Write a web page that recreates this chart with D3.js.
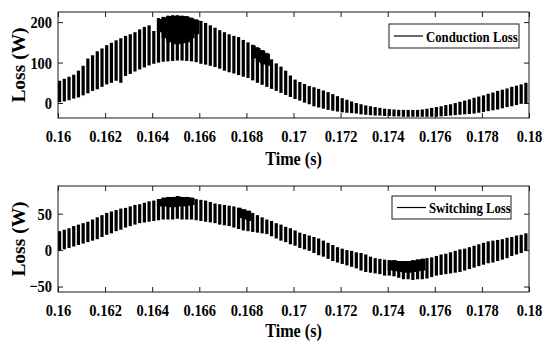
<!DOCTYPE html>
<html>
<head>
<meta charset="utf-8">
<script src="https://cdn.jsdelivr.net/npm/d3@7"></script>
<style>
  html, body { margin: 0; padding: 0; background: #fff; }
  svg { display: block; }
  text { font-family: "Liberation Serif", "Times New Roman", serif; font-weight: bold; fill: #000; }
</style>
</head>
<body>
<svg id="chart" width="550" height="351"></svg>
<script>
// time grid of the switching pulses (one entry per PWM period)
const T_START = 0.16, T_STEP = 0.0002;
const xDomain = [0.16, 0.18];
const xTicks = [0.16, 0.162, 0.164, 0.166, 0.168, 0.17, 0.172, 0.174, 0.176, 0.178, 0.18];
const xTickLabels = ["0.16", "0.162", "0.164", "0.166", "0.168", "0.17", "0.172", "0.174", "0.176", "0.178", "0.18"];

// conduction loss: peak / valley of each pulse (W)
const condHi = [55, 60, 65, 70, 80, 92, 110, 118, 128, 135,
  143, 149, 155, 160, 166, 170, 175, 182, 188, 192,
  178, 210, 213, 216, 217, 217, 216, 215, 211, 207,
  203, 198, 192, 186, 180, 175, 170, 166, 163, 156,
  150, 144, 138, 131, 124, 108, 98, 90, 80, 68,
  58, 52, 47, 42, 39, 35, 31, 27, 22, 17,
  12, 8, 4, 0, -3, -6, -8, -10, -12, -14,
  -15, -16, -17, -17, -17, -17, -17, -16, -14, -12,
  -10, -8, -5, -3, 0, 3, 6, 9, 13, 16,
  19, 23, 26, 30, 33, 36, 40, 43, 46, 50, 53];
const condLo = [2, 4, 7, 11, 14, 19, 24, 30, 34, 40,
  46, 50, 55, 50, 67, 72, 78, 83, 88, 93,
  97, 100, 102, 103, 104, 105, 105, 104, 103, 101,
  97, 95, 92, 89, 85, 80, 76, 73, 69, 65,
  62, 56, 50, 45, 40, 35, 30, 25, 20, 15,
  10, 6, 1, -3, -8, -11, -14, -17, -19, -21,
  -23, -24, -25, -26, -28, -29, -30, -31, -31, -32,
  -32, -33, -33, -34, -34, -34, -34, -34, -34, -34,
  -34, -33, -32, -31, -30, -29, -28, -27, -26, -24,
  -22, -20, -18, -16, -13, -10, -8, -5, -2, 0, 3];
const condTicks = [0, 100, 200];
// solid black cores where pulses overlap
const condCoreT  = [0.1642, 0.1644, 0.1646, 0.1648, 0.1650, 0.1652, 0.1654, 0.1656, 0.1658, 0.1660,
  0.1682, 0.1684, 0.1686, 0.1688, 0.1690];
const condCoreHi = [208, 212, 215, 216, 216, 215, 213, 209, 205, null, 142, 136, 130, 122, null];
const condCoreLo = [175, 160, 150, 145, 145, 148, 150, 160, 170, null, 110, 100, 95, 92, null];

// switching loss: peak / valley of each pulse (W)
const swHi = [26, 28, 30, 33, 35, 37, 39, 42, 45, 48,
  51, 53, 55, 57, 58, 60, 62, 63, 65, 67,
  68, 70, 72, 73, 73, 74, 73, 73, 72, 70,
  69, 68, 66, 64, 63, 62, 61, 60, 58, 56,
  54, 51, 48, 45, 42, 40, 37, 35, 32, 30,
  27, 24, 22, 20, 18, 16, 13, 10, 7, 4,
  2, 0, -1, -3, -4, -6, -9, -11, -12, -13,
  -14, -14, -15, -15, -15, -14, -13, -12, -11, -10,
  -8, -6, -5, -3, -1, 1, 2, 4, 6, 8,
  10, 12, 13, 14, 15, 17, 18, 20, 21, 23, 25];
const swLo = [-1, 1, 3, 5, 7, 9, 11, 13, 15, 18,
  21, 23, 26, 28, 31, 33, 35, 37, 38, 39,
  40, 41, 42, 42, 42, 43, 42, 42, 42, 41,
  40, 39, 38, 37, 35, 34, 33, 31, 29, 27,
  26, 25, 24, 23, 22, 19, 16, 13, 11, 8,
  6, 3, 1, -1, -4, -7, -9, -12, -15, -17,
  -19, -21, -23, -25, -28, -30, -31, -32, -33, -35,
  -35, -36, -38, -40, -40, -41, -40, -40, -39, -37,
  -35, -34, -33, -32, -31, -30, -28, -26, -24, -22,
  -20, -18, -17, -15, -13, -11, -8, -6, -4, -1, 1];
const swTicks = [-50, 0, 50];
const swCoreT  = [0.1642, 0.1644, 0.1646, 0.1648, 0.1650, 0.1652, 0.1654, 0.1656, 0.1658,
  0.1676, 0.1678, 0.1680, 0.1682,
  0.1740, 0.1742, 0.1744, 0.1746, 0.1748, 0.1750, 0.1752, 0.1754, 0.1756];
const swCoreHi = [70, 72, 73, 73, 74, 73, 73, 72, null, 58, 56, 54, null,
  -14, -14, -15, -15, -15, -14, -13, -12, null];
const swCoreLo = [60, 60, 59, 59, 60, 60, 61, 62, null, 44, 42, 40, null,
  -28, -29, -30, -31, -31, -30, -29, -28, null];

const DUTY = 0.68;
const AX = "#1a1a1a";
const SX = 0.85; // the original figure is squeezed horizontally

const svg = d3.select("#chart");
const left = 58, right = 529;
const x = d3.scaleLinear().domain(xDomain).range([left, right]);

function drawPanel(p) {
    const g = svg.append("g");
    const y = d3.scaleLinear().domain(p.yDomain).range([p.bottom, p.top]);

    g.append("clipPath").attr("id", p.id + "-clip")
        .append("rect").attr("x", left).attr("y", p.top)
        .attr("width", right - left).attr("height", p.bottom - p.top);

    const plot = g.append("g").attr("clip-path", `url(#${p.id}-clip)`);
    const pulses = p.hi.map((h, i) => ({ t: T_START + i * T_STEP, hi: h, lo: p.lo[i] }));
    plot.selectAll("rect").data(pulses).join("rect")
        .attr("x", d => x(d.t))
        .attr("width", d => x(d.t + DUTY * T_STEP) - x(d.t))
        .attr("y", d => y(d.hi))
        .attr("height", d => Math.max(1, y(d.lo) - y(d.hi)))
        .attr("fill", "#000");

    const core = p.coreT.map((t, i) => ({ t, hi: p.coreHi[i], lo: p.coreLo[i] }));
    const area = d3.area()
        .defined(d => d.hi != null)
        .x(d => x(d.t)).y0(d => y(d.lo)).y1(d => y(d.hi))
        .curve(d3.curveStepAfter);
    // step area needs the closing point of each run, so extend every run by one step
    const runs = [];
    let cur = [];
    core.forEach(d => {
        if (d.hi == null) { if (cur.length) { cur.push({ t: d.t, hi: cur[cur.length - 1].hi, lo: cur[cur.length - 1].lo }); runs.push(cur); } cur = []; }
        else cur.push(d);
    });
    plot.selectAll("path.core").data(runs).join("path").attr("class", "core")
        .attr("d", area).attr("fill", "#000");

    // axes, ticks pointing inward like matlab
    const xa = g.append("g").attr("transform", `translate(0,${p.bottom})`)
        .call(d3.axisBottom(x).tickValues(xTicks).tickFormat((d, i) => xTickLabels[i])
            .tickSizeInner(-5).tickSizeOuter(0).tickPadding(12));
    const xt = g.append("g").attr("transform", `translate(0,${p.top})`)
        .call(d3.axisTop(x).tickValues(xTicks).tickFormat("").tickSizeInner(-5).tickSizeOuter(0));
    const ya = g.append("g").attr("transform", `translate(${left},0)`)
        .call(d3.axisLeft(y).tickValues(p.yTicks).tickSizeInner(-5).tickSizeOuter(0).tickPadding(7));
    const yr = g.append("g").attr("transform", `translate(${right},0)`)
        .call(d3.axisRight(y).tickValues(p.yTicks).tickFormat("").tickSizeInner(-5).tickSizeOuter(0));

    [xa, xt, ya, yr].forEach(a => {
        a.select(".domain").remove();
        a.selectAll("line").attr("stroke", AX);
        a.attr("font-family", null).attr("font-size", null);
    });
    xa.selectAll("text").style("font-size", "17px").attr("transform", `scale(${SX},1)`);
    ya.selectAll("text").style("font-size", "17px").attr("transform", `scale(${SX},1)`);

    g.append("rect").attr("x", left).attr("y", p.top)
        .attr("width", right - left).attr("height", p.bottom - p.top)
        .attr("fill", "none").attr("stroke", AX).attr("stroke-width", 1);

    g.append("text")
        .attr("transform", `translate(${(left + right) / 2},${p.xLabelY}) scale(${SX},1)`)
        .attr("text-anchor", "middle").style("font-size", "19px")
        .text("Time (s)");
    g.append("text")
        .attr("transform", `translate(25,${(p.top + p.bottom) / 2}) rotate(-90) scale(1,0.93)`)
        .attr("text-anchor", "middle").style("font-size", "19.5px")
        .text("Loss (W)");

    // legend
    const lg = p.legend;
    g.append("rect").attr("x", lg.x).attr("y", lg.y).attr("width", lg.w).attr("height", lg.h)
        .attr("fill", "#fff").attr("stroke", AX).attr("stroke-width", 1);
    g.append("line").attr("x1", lg.x + 5).attr("x2", lg.x + 34)
        .attr("y1", lg.y + lg.h / 2).attr("y2", lg.y + lg.h / 2)
        .attr("stroke", "#000").attr("stroke-width", 1.2);
    g.append("text")
        .attr("transform", `translate(${lg.x + 37},${lg.y + lg.h / 2 + 5.5}) scale(${SX},1)`)
        .style("font-size", "15px")
        .text(lg.label);
}

drawPanel({
    id: "cond", top: 12, bottom: 118, yDomain: [-37, 225], yTicks: condTicks,
    hi: condHi, lo: condLo, coreT: condCoreT, coreHi: condCoreHi, coreLo: condCoreLo, xLabelY: 165,
    legend: { x: 389, y: 24, w: 130, h: 24, label: "Conduction Loss" }
});
drawPanel({
    id: "sw", top: 186, bottom: 292, yDomain: [-57.5, 88], yTicks: swTicks,
    hi: swHi, lo: swLo, coreT: swCoreT, coreHi: swCoreHi, coreLo: swCoreLo, xLabelY: 337,
    legend: { x: 392, y: 196, w: 119, h: 23, label: "Switching Loss" }
});
</script>
</body>
</html>
